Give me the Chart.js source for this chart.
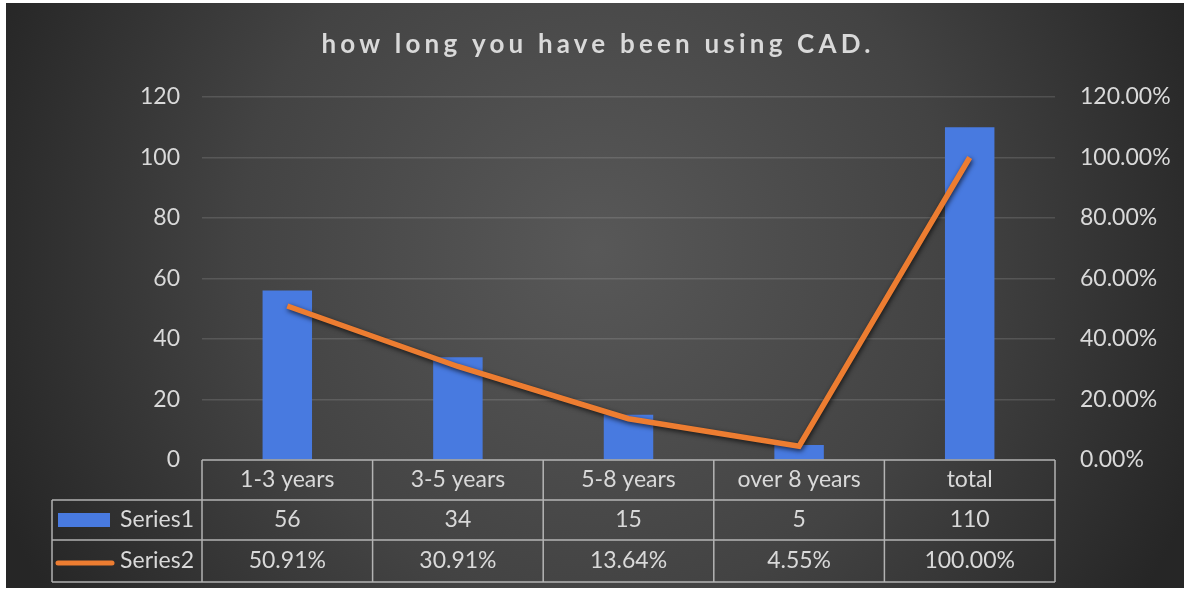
<!DOCTYPE html>
<html>
<head>
<meta charset="utf-8">
<script src="https://cdn.jsdelivr.net/npm/chart.js@4"></script>
<style>
  html, body { margin: 0; padding: 0; background: #ffffff; }
  #wrap {
    position: absolute; left: 6px; top: 3px;
    width: 1178px; height: 585px;
  }
  canvas { display: block; }
</style>
</head>
<body>
<div id="wrap"><canvas id="c" width="1178" height="585"></canvas></div>
<script>
// How long respondents have been using CAD
const titleText = 'how long you have been using CAD.';
const categories = ['1-3 years', '3-5 years', '5-8 years', 'over 8 years', 'total'];
const series1Name = 'Series1';
const series2Name = 'Series2';
const series1 = [56, 34, 15, 5, 110];                  // counts
const series2 = [50.91, 30.91, 13.64, 4.55, 100.00];  // share of total, %

const TEXT = '#d9d9d9';
const FONT = 'Lato, "Open Sans", sans-serif';
const BLUE = '#487ae0';
const ORANGE = '#ed7d31';

// dark radial backdrop
const backdrop = {
  id: 'backdrop',
  beforeDraw(chart) {
    const { ctx, width, height } = chart;
    const g = ctx.createRadialGradient(width * 0.5, height * 0.42, 0, width * 0.5, height * 0.42, width * 0.55);
    g.addColorStop(0, '#585858');
    g.addColorStop(0.55, '#434343');
    g.addColorStop(1, '#262626');
    ctx.save();
    ctx.fillStyle = g;
    ctx.fillRect(0, 0, width, height);
    ctx.restore();
  }
};

// spaced-out chart title
const spacedTitle = {
  id: 'spacedTitle',
  afterDraw(chart) {
    const { ctx, width } = chart;
    ctx.save();
    ctx.font = 'bold 26px ' + FONT;
    ctx.letterSpacing = '4.2px';
    ctx.fillStyle = TEXT;
    ctx.textAlign = 'center';
    ctx.textBaseline = 'middle';
    ctx.fillText(titleText, width / 2 + 3, 42);
    ctx.restore();
  }
};

// soft shadow under the line series
const lineShadow = {
  id: 'lineShadow',
  beforeDatasetDraw(chart, args) {
    if (args.meta.type !== 'line') return;
    const ctx = chart.ctx;
    ctx.save();
    ctx.shadowColor = 'rgba(0,0,0,0.7)';
    ctx.shadowBlur = 5;
    ctx.shadowOffsetX = 1;
    ctx.shadowOffsetY = 2;
  },
  afterDatasetDraw(chart, args) {
    if (args.meta.type !== 'line') return;
    chart.ctx.restore();
  }
};

// data table under the plot, aligned with the category axis
const dataTable = {
  id: 'dataTable',
  afterDraw(chart) {
    const { ctx, chartArea } = chart;
    const x = chart.scales.x;
    const n = categories.length;
    const step = (chartArea.right - chartArea.left) / n;
    const top = chartArea.bottom;
    const rowH = [40, 40, 42];
    const legendLeft = 46;
    const y0 = top, y1 = top + rowH[0], y2 = y1 + rowH[1], y3 = y2 + rowH[2];

    ctx.save();
    ctx.strokeStyle = 'rgba(200,200,200,0.85)';
    ctx.lineWidth = 1.5;
    ctx.beginPath();
    // horizontal rules
    ctx.moveTo(chartArea.left, y0); ctx.lineTo(chartArea.right, y0);
    ctx.moveTo(legendLeft, y1); ctx.lineTo(chartArea.right, y1);
    ctx.moveTo(legendLeft, y2); ctx.lineTo(chartArea.right, y2);
    ctx.moveTo(legendLeft, y3); ctx.lineTo(chartArea.right, y3);
    // vertical rules
    ctx.moveTo(legendLeft, y1); ctx.lineTo(legendLeft, y3);
    for (let i = 0; i <= n; i++) {
      const px = x.getPixelForValue(Math.min(i, n - 1)) + (i === n ? step / 2 : -step / 2);
      ctx.moveTo(px, y0); ctx.lineTo(px, y3);
    }
    ctx.stroke();

    ctx.font = '23px ' + FONT;
    ctx.fillStyle = TEXT;
    ctx.textAlign = 'center';
    ctx.textBaseline = 'middle';
    categories.forEach((c, i) => {
      const cx = x.getPixelForValue(i);
      ctx.fillText(c, cx, (y0 + y1) / 2);
      ctx.fillText(String(series1[i]), cx, (y1 + y2) / 2);
      ctx.fillText(series2[i].toFixed(2) + '%', cx, (y2 + y3) / 2);
    });

    // legend keys
    ctx.textAlign = 'right';
    ctx.fillText(series1Name, chartArea.left - 8, (y1 + y2) / 2);
    ctx.fillText(series2Name, chartArea.left - 8, (y2 + y3) / 2);
    ctx.fillStyle = BLUE;
    ctx.fillRect(52, (y1 + y2) / 2 - 7, 52, 14);
    ctx.strokeStyle = ORANGE;
    ctx.lineWidth = 5;
    ctx.lineCap = 'round';
    ctx.beginPath();
    ctx.moveTo(52, (y2 + y3) / 2 + 2);
    ctx.lineTo(106, (y2 + y3) / 2 + 2);
    ctx.stroke();
    ctx.restore();
  }
};

new Chart(document.getElementById('c'), {
  data: {
    labels: categories,
    datasets: [
      {
        type: 'line',
        label: series2Name,
        data: series2,
        yAxisID: 'y2',
        borderColor: ORANGE,
        borderWidth: 5.5,
        pointRadius: 0,
        tension: 0,
        borderJoinStyle: 'miter',
        order: 0
      },
      {
        type: 'bar',
        label: series1Name,
        data: series1,
        yAxisID: 'y',
        backgroundColor: BLUE,
        categoryPercentage: 1,
        barPercentage: 0.29,
        order: 1
      }
    ]
  },
  options: {
    responsive: false,
    animation: false,
    layout: { padding: { top: 94, bottom: 128, left: 0, right: 0 } },
    plugins: {
      legend: { display: false },
      title: { display: false },
      tooltip: { enabled: false }
    },
    scales: {
      x: {
        display: false,
        offset: true
      },
      y: {
        position: 'left',
        min: 0, max: 120,
        ticks: { stepSize: 20, color: TEXT, font: { family: FONT, size: 23 }, padding: 22 },
        grid: {
          color: (c) => c.tick.value === 0 ? 'rgba(0,0,0,0)' : 'rgba(255,255,255,0.13)',
          lineWidth: 1.5,
          drawTicks: false
        },
        border: { display: false },
        afterFit(s) { s.width = 196; }
      },
      y2: {
        position: 'right',
        min: 0, max: 120,
        ticks: {
          stepSize: 20, color: TEXT, font: { family: FONT, size: 23 }, padding: 25,
          callback: (v) => v.toFixed(2) + '%'
        },
        grid: { display: false, drawTicks: false },
        border: { display: false },
        afterFit(s) { s.width = 129; }
      }
    }
  },
  plugins: [backdrop, lineShadow, dataTable, spacedTitle]
});
</script>
</body>
</html>
